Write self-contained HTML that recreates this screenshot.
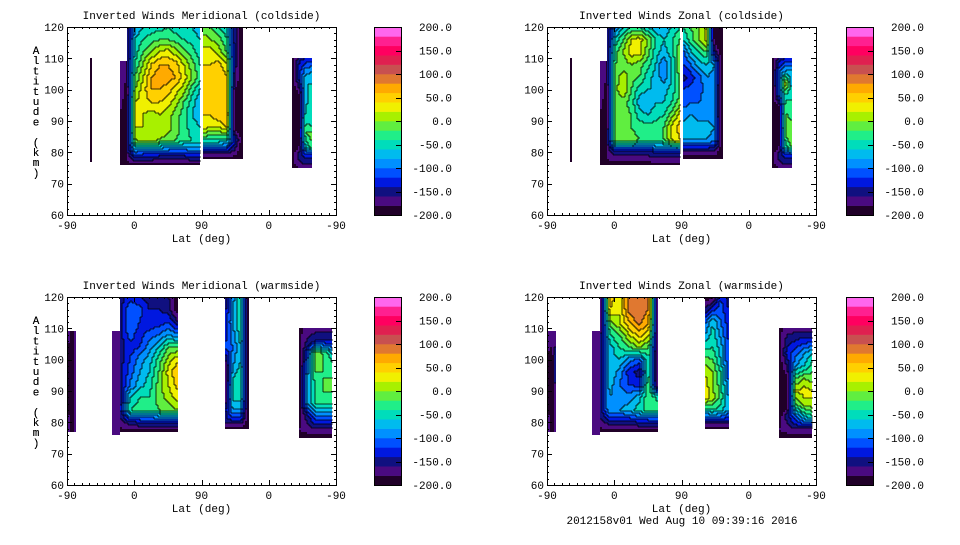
<!DOCTYPE html>
<html><head><meta charset="utf-8"><style>
body{margin:0;background:#fff;width:960px;height:540px;overflow:hidden}
svg text{font-family:"Liberation Mono",monospace;font-size:11px;fill:#000}
</style></head><body>
<svg id="fig" width="960" height="540" viewBox="0 0 960 540"></svg>
<script>
// ---- data ----
const colorLevels=[-200,-180,-160,-140,-120,-100,-80,-60,-40,-20,0,20,40,60,80,100,120,140,160,180];
const colorHex=["#200028","#4a0a80","#101080","#0018e0","#0050ff","#0090ff","#00bbee","#00ddbb","#20ee88","#60ee40","#a8f000","#f0f000","#ffd000","#ffaa00","#e07830","#c85050","#e02050","#ff0060","#ff2090","#ff66ee"];
const cbarTicks=[200,150,100,50,0,-50,-100,-150,-200];
const xTickVals=[-90,0,90,180,270];
const xTickLabels=["-90","0","90","0","-90"];
const yTickVals=[60,70,80,90,100,110,120];
const panelTitles=["Inverted Winds Meridional (coldside)","Inverted Winds Zonal (coldside)","Inverted Winds Meridional (warmside)","Inverted Winds Zonal (warmside)"];
const B=-190,D=-200;
const tlBlocks=[
 {u:[-59,-56],alt:[110,77],v:[[D,D],[D,D]]},
 {u:[-19,-10],alt:[109,76],v:[[-170,-180],[-190,-190],[-180,-170],[B,B]]},
 {u:[-10,88],alt:[120,116,112,108,104,100,96,92,88,84,80,76],v:[
  [-170,-80,-60,-50,-50,-40,-50,-60,-60,-70],[-170,-60,-40,-30,-20,-20,-30,-40,-50,-60],
  [-170,-50,-20,0,20,30,10,-10,-30,-50],[-170,-40,0,40,60,60,50,20,-10,-40],
  [-180,-20,20,60,70,70,60,30,0,-30],[-190,0,30,60,60,50,30,10,-30,-60],
  [-190,20,30,40,40,30,10,-20,-50,-80],[-190,20,20,10,20,10,-10,-30,-60,-70],
  [-190,20,20,0,20,10,-10,-30,-50,-60],[-180,0,10,10,0,-10,-20,-30,-40,-40],
  [-170,-100,-110,-110,-120,-120,-120,-120,-110,-110],[B,B,B,B,B,B,B,B,B,B]]},
 {u:[92,145],alt:[120,116,112,108,104,100,96,92,88,84,80,78],v:[
  [-10,-20,-40,-60,-150,D],[10,0,-10,-40,-150,D],[30,30,10,-20,-150,D],[40,40,50,20,-150,D],
  [40,40,60,40,-160,D],[40,40,40,50,-180,D],[40,40,40,50,-190,D],[40,40,60,60,-190,D],
  [30,20,20,40,-190,D],[-40,-40,-40,-50,-130,D],[-150,-150,-150,-150,-170,D],[B,B,B,B,B,B]]},
 {u:[211,238],alt:[110,106,102,98,94,90,86,82,79,75],v:[
  [D,-150,-140,-130],[D,-130,-90,-80],[D,-150,-60,-60],[D,-190,-70,-50],[D,D,-60,-50],
  [D,D,-40,-60],[D,D,-20,-10],[D,-190,-60,-20],[B,-150,-130,-130],[B,-180,-170,-170]]}
];
const trBlocks=[
 {u:[-59,-56],alt:[110,77],v:[[D,D],[D,D]]},
 {u:[-19,-10],alt:[109,76],v:[[-170,-180],[-190,-190],[-180,-170],[B,B]]},
 {u:[-10,88],alt:[120,116,112,108,104,100,96,92,88,84,80,76],v:[
  [-170,-100,-60,-40,-40,-60,-80,-80,-60,-40],[-170,-60,-20,20,30,0,-40,-60,-40,-20],
  [-170,-30,0,30,30,-10,-50,-70,-50,0],[-170,-20,-10,0,-10,-30,-60,-100,-60,0],
  [-180,-10,10,-10,-20,-50,-70,-90,-60,-10],[-190,-10,20,-20,-50,-60,-60,-70,-50,-20],
  [-190,-10,-10,-30,-70,-80,-60,-60,-40,-10],[-190,0,-10,-20,-50,-60,-50,-40,-10,30],
  [-190,0,-10,-20,-30,-30,-30,-20,30,50],[-180,-10,-10,-10,-20,-20,-20,-20,20,40],
  [-170,-150,-150,-150,-150,-150,-140,-140,-140,-140],[B,B,B,B,B,B,B,B,B,B]]},
 {u:[92,145],alt:[120,116,112,108,104,100,96,92,88,84,80,78],v:[
  [-40,-20,0,20,D,D],[-60,-30,0,30,D,D],[-110,-60,-40,-20,-150,D],[-120,-100,-70,-60,-80,D],
  [-150,-130,-110,-80,-90,D],[-120,-110,-110,-90,-100,D],[-110,-100,-100,-90,-100,D],
  [-90,-80,-90,-90,-100,D],[-70,-60,-70,-70,-80,D],[-80,-80,-80,-80,-90,D],
  [-170,-170,-170,-170,-170,D],[B,B,B,B,B,B]]},
 {u:[211,238],alt:[110,106,102,98,94,90,86,82,79,75],v:[
  [D,-150,-140,-140],[D,-110,-80,-80],[D,-110,20,-80],[D,-120,-50,-40],[D,D,-20,-40],
  [D,D,-10,-20],[D,D,-20,0],[D,-190,-40,-10],[B,-150,-130,-130],[B,-180,-170,-170]]}
];
const blBlocks=[
 {u:[-89,-78],alt:[109,100,90,77],v:[[-170,-190,-170],[-180,D,-160],[-180,D,-170],[-170,-190,-170]]},
 {u:[-30,-19],alt:[109,76],v:[[-170,-160],[-170,-170],[B,B]]},
 {u:[-19,59],alt:[120,116,112,108,104,100,96,92,88,84,80,77],v:[
  [-150,-130,-140,-150,-150,-160,D],[-150,-100,-110,-140,-140,-150,D],
  [-150,-100,-120,-140,-130,-120,-160],[-150,-110,-130,-110,-100,-80,-100],
  [-150,-130,-120,-90,-60,-20,-20],[-150,-120,-90,-70,-30,10,40],
  [-150,-110,-80,-60,-20,30,60],[-150,-100,-70,-50,-10,20,50],
  [-150,-60,-40,-40,-10,10,30],[-150,-40,-30,-30,-20,-10,0],
  [-170,-150,-140,-140,-140,-140,-140],[B,B,B,B,B,B,B]]},
 {u:[121,153],alt:[120,112,104,100,96,92,88,84,80,78],v:[
  [-160,-90,-40,D],[-140,-80,-40,D],[-120,-100,-60,D],[-170,-90,-60,D],[D,-70,-50,D],
  [D,-50,-40,D],[D,-50,-50,D],[-150,-80,-80,D],[-150,-150,-150,D],[B,B,B,B]]},
 {u:[220,265],alt:[110,106,102,98,94,90,86,82,78,75],v:[
  [B,-170,-170,-170,-170],[B,-160,-140,-140,-140],[D,-120,-10,-20,-60],[D,-100,-10,-20,-30],
  [D,-80,-30,-20,-20],[D,-80,-40,-20,-20],[D,-80,-40,-40,-40],[D,-150,-100,-100,-100],
  [-180,-170,-160,-160,-160],[B,B,B,B,B]]}
];
const brBlocks=[
 {u:[-89,-78],alt:[109,100,90,77],v:[[-170,-160,-170],[-180,D,-140],[-180,D,-150],[-170,-190,-170]]},
 {u:[-30,-19],alt:[109,76],v:[[-170,-160],[-170,-170],[B,B]]},
 {u:[-19,59],alt:[120,116,112,108,104,100,96,92,88,84,80,77],v:[
  [D,50,30,90,100,90,D],[D,40,20,90,100,80,D],[-190,-10,20,60,90,60,D],
  [-170,-40,-20,20,50,30,D],[-150,-70,-40,-20,0,-20,D],[-150,-70,-60,-90,-110,-40,D],
  [-150,-60,-90,-130,-150,-40,D],[-150,-70,-100,-120,-130,-20,D],[-150,-80,-90,-90,-70,-20,-50],
  [-150,-80,-80,-70,-50,-30,-30],[-170,-150,-150,-150,-140,-140,-140],[B,B,B,B,B,B,B]]},
 {u:[121,153],alt:[120,112,104,100,96,92,88,84,80,78],v:[
  [D,-190,-120,-150],[-110,-60,-100,-130],[-50,-40,-70,-120],[-10,-20,-60,-120],[20,0,-40,-110],
  [30,0,-30,-100],[40,10,-30,-80],[-50,-40,-50,-80],[-150,-150,-150,-150],[B,B,B,B]]},
 {u:[220,265],alt:[110,106,102,98,94,90,86,82,78,75],v:[
  [B,-170,-170,-170,-170],[B,-150,-140,-130,-130],[D,-130,-110,-80,-60],[D,-160,-80,-60,-30],
  [D,-190,-20,0,-10],[D,D,20,30,20],[D,D,-20,10,20],[D,-150,-100,-60,-40],
  [-180,-170,-160,-160,-160],[B,B,B,B,B]]}
];
const panelBlocks=[tlBlocks,trBlocks,blBlocks,brBlocks];

// ---- drawing ----
const NS="http://www.w3.org/2000/svg";
const svg=document.getElementById('fig');
function mk(tag,attrs,parent){const e=document.createElementNS(NS,tag);for(const k in attrs)e.setAttribute(k,attrs[k]);(parent||svg).appendChild(e);return e;}
function bandOf(v){let i=Math.floor((v+200)/20);return Math.max(0,Math.min(19,i));}
const origins=[[0,0],[480,0],[0,270],[480,270]];
const cbarX=[374,846,374,846];
const PW=269,PH=188,PX=67,PY=27;
panelBlocks.forEach((blocks,pi)=>{
  const ox=origins[pi][0],oy=origins[pi][1];
  const g=mk('g',{});
  
  
  const x0=ox+PX,y0=oy+PY;
  const xs=u=>x0+(u+90)*PW/360;
  const ys=a=>y0+(120-a)*PH/60;
  const t=mk('text',{x:x0+PW/2,y:oy+19,'text-anchor':'middle'},g);t.textContent=panelTitles[pi];
  
  const field=mk('g',{},g);
  
  const S=2;
  blocks.forEach(b=>{
    const px0=Math.round(xs(b.u[0])),px1=Math.round(xs(b.u[1]));
    const py0=Math.round(ys(b.alt[0])),py1=Math.round(ys(b.alt[b.alt.length-1]));
    const nc=b.v[0].length;
    const grid=[];
    for(let py=py0;py<py1;py+=S){
      const a=120-((py+S/2)-y0)*60/PH;
      let r=0;while(r<b.alt.length-2&&a<b.alt[r+1])r++;
      let fr=(b.alt[r]-a)/(b.alt[r]-b.alt[r+1]);fr=Math.max(0,Math.min(1,fr));
      const row=[];
      for(let px=px0;px<px1;px+=S){
        const u=b.u[0]+((px+S/2)-xs(b.u[0]))/(xs(b.u[1])-xs(b.u[0]))*(b.u[1]-b.u[0]);
        let fc=(u-b.u[0])/(b.u[1]-b.u[0])*(nc-1);fc=Math.max(0,Math.min(nc-1,fc));
        let c0=Math.min(Math.floor(fc),nc-2);const fcc=fc-c0;
        const v=(b.v[r][c0]*(1-fcc)+b.v[r][c0+1]*fcc)*(1-fr)+(b.v[r+1][c0]*(1-fcc)+b.v[r+1][c0+1]*fcc)*fr;
        row.push(bandOf(v));
      }
      grid.push(row);
    }
    grid.forEach((row,ri)=>{
      const py=py0+ri*S;const h=Math.min(S,py1-py);
      let run=row[0],start=0;
      for(let ci=1;ci<=row.length;ci++){
        if(ci===row.length||row[ci]!==run){
          const x=px0+start*S,w=Math.min(px0+ci*S,px1)-x;
          const c=mk('rect',{x:x,y:py,width:w,height:h,fill:colorHex[run]},field);
          
          
          if(ci<row.length){run=row[ci];start=ci;}
        }
      }
    });
    // contour lines at band boundaries
    let d='';
    for(let ri=0;ri<grid.length;ri++)for(let ci=0;ci<grid[ri].length;ci++){
      const x=px0+ci*S,y=py0+ri*S;
      if(ci+1<grid[ri].length&&grid[ri][ci+1]!==grid[ri][ci]&&grid[ri][ci]>0&&grid[ri][ci+1]>0)d+=`M${x+S} ${y}v${S}`;
      if(ri+1<grid.length&&grid[ri+1][ci]!==grid[ri][ci]&&grid[ri][ci]>0&&grid[ri+1][ci]>0)d+=`M${x} ${y+S}h${S}`;
    }
    if(d){const p=mk('path',{d:d,stroke:'#000','stroke-width':0.8,fill:'none'},field);
      }
  });
  // axes frame
  const fr=mk('rect',{x:x0+.5,y:y0+.5,width:PW,height:PH,fill:'none',stroke:'#000','stroke-width':1},g);
  
  for(let a=60;a<=120;a+=2){const yy=Math.round(ys(a))+.5;const L=(a%10===0)?5:2;
    mk('line',{x1:x0,x2:x0+L,y1:yy,y2:yy,stroke:'#000'},g);mk('line',{x1:x0+PW-L,x2:x0+PW,y1:yy,y2:yy,stroke:'#000'},g);}
  for(let u=-90;u<=270;u+=10){const xx=Math.round(xs(u))+.5;const L=(u%90===0)?5:2;
    mk('line',{x1:xx,x2:xx,y1:y0+PH-L,y2:y0+PH,stroke:'#000'},g);mk('line',{x1:xx,x2:xx,y1:y0,y2:y0+L,stroke:'#000'},g);}
  xTickVals.forEach((u,i)=>{const tt=mk('text',{x:xs(u),y:y0+PH+14,'text-anchor':'middle'},g);tt.textContent=xTickLabels[i];
    });
  yTickVals.forEach(a=>{const tt=mk('text',{x:x0-3,y:ys(a)+4,'text-anchor':'end'},g);tt.textContent=String(a);
    });
  const xt=mk('text',{x:x0+PW/2,y:y0+PH+27,'text-anchor':'middle'},g);xt.textContent='Lat (deg)';
  
  const yl=mk('g',{},g);
  "Altitude (km)".split('').forEach((ch,i)=>{if(ch===' ')return;const tt=mk('text',{x:36,y:oy+54+i*10.2,'text-anchor':'middle'},yl);tt.textContent=ch;});
  // colorbar
  const cx=cbarX[pi];const cb=mk('g',{},g);
  
  const cs=v=>y0+(200-v)*PH/400;
  colorLevels.forEach((lv,i)=>{const r=mk('rect',{x:cx,y:cs(lv+20),width:28,height:PH/20+.3,fill:colorHex[i]},cb);
    });
  mk('rect',{x:cx+.5,y:y0+.5,width:27,height:PH,fill:'none',stroke:'#000'},cb);
  cbarTicks.forEach(v=>{const yy=Math.round(cs(v))+.5;mk('line',{x1:cx+22,x2:cx+28,y1:yy,y2:yy,stroke:'#000'},cb);
    const tt=mk('text',{x:cx+78,y:cs(v)+4,'text-anchor':'end'},cb);tt.textContent=v.toFixed(1);
    });
});
const ft=mk('text',{x:682,y:524,'text-anchor':'middle'});ft.textContent='2012158v01 Wed Aug 10 09:39:16 2016';

</script>
</body></html>
